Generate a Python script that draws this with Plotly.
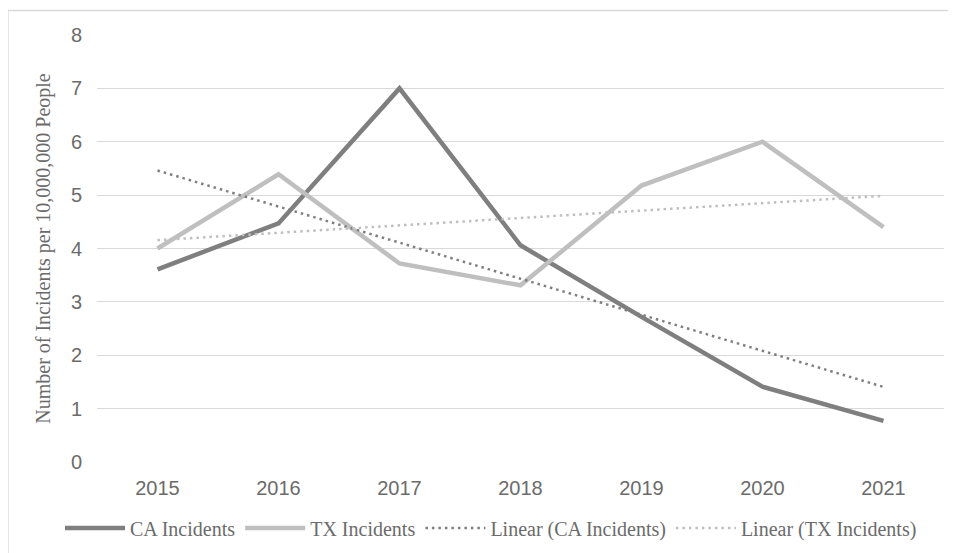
import numpy as np
import plotly.graph_objects as go

years = ["2015", "2016", "2017", "2018", "2019", "2020", "2021"]
ca_incidents = [3.61, 4.47, 7.0, 4.06, 2.72, 1.41, 0.77]
tx_incidents = [4.0, 5.39, 3.72, 3.31, 5.18, 6.0, 4.40]
y_ticks = [0, 1, 2, 3, 4, 5, 6, 7, 8]

ca_color = "#7f7f80"
tx_color = "#bfbfbf"
txt_color = "#6b6b6b"
grid_color = "#d9d9d9"

idx = np.arange(len(years))
ca_fit = np.polyval(np.polyfit(idx, ca_incidents, 1), idx)
tx_fit = np.polyval(np.polyfit(idx, tx_incidents, 1), idx)

fig = go.Figure()
fig.add_trace(go.Scatter(x=years, y=ca_incidents, mode="lines", name="CA Incidents",
                         line=dict(color=ca_color, width=4.5)))
fig.add_trace(go.Scatter(x=years, y=tx_incidents, mode="lines", name="TX Incidents",
                         line=dict(color=tx_color, width=4.5)))
fig.add_trace(go.Scatter(x=years, y=ca_fit, mode="lines", name="Linear (CA Incidents)",
                         line=dict(color=ca_color, width=2.5, dash="2.5px,4px")))
fig.add_trace(go.Scatter(x=years, y=tx_fit, mode="lines", name="Linear (TX Incidents)",
                         line=dict(color=tx_color, width=2.5, dash="2.5px,4px")))

OFF = 8  # page body margin
W, H = 956 - OFF, 553 - OFF
L, R, T, B = 97 - OFF, 956 - 944, 35 - OFF, 553 - 462
pw, ph = W - L - R, H - T - B

def px_x(p):
    return (p - OFF - L) / pw

def px_y(p):
    return 1 - (p - OFF - T) / ph

# outer chart border (top and left)
fig.add_shape(type="line", xref="paper", yref="paper",
              x0=px_x(8), x1=px_x(970), y0=px_y(10.5), y1=px_y(10.5),
              line=dict(color=grid_color, width=1.3))
fig.add_shape(type="line", xref="paper", yref="paper",
              x0=px_x(8), x1=px_x(8), y0=px_y(10.5), y1=px_y(570),
              line=dict(color=grid_color, width=1.3))

fig.update_layout(
    width=W, height=H,
    margin=dict(l=L, r=R, t=T, b=B, autoexpand=False),
    paper_bgcolor="white", plot_bgcolor="white",
    showlegend=True,
    legend=dict(orientation="h", x=px_x(60), xanchor="left", y=px_y(528), yanchor="middle",
                font=dict(family="Liberation Serif", size=20, color=txt_color),
                itemwidth=60, tracegroupgap=0, bgcolor="rgba(0,0,0,0)"),
    xaxis=dict(type="category", range=[-0.5, 6.5], showgrid=False, showline=False, zeroline=False,
               tickfont=dict(family="Liberation Sans", size=20, color=txt_color),
               ticks="", ticklabelstandoff=12),
    yaxis=dict(range=[0, 8], tickvals=y_ticks, showgrid=True, gridcolor=grid_color, gridwidth=1.3,
               zeroline=False, showline=False, ticks="",
               tickfont=dict(family="Liberation Sans", size=20, color=txt_color),
               ticklabelstandoff=14,
               title=dict(text="Number of Incidents per 10,000,000 People",
                          font=dict(family="Liberation Serif", size=20, color=txt_color),
                          standoff=14)),
)

fig.write_html("out.html")
